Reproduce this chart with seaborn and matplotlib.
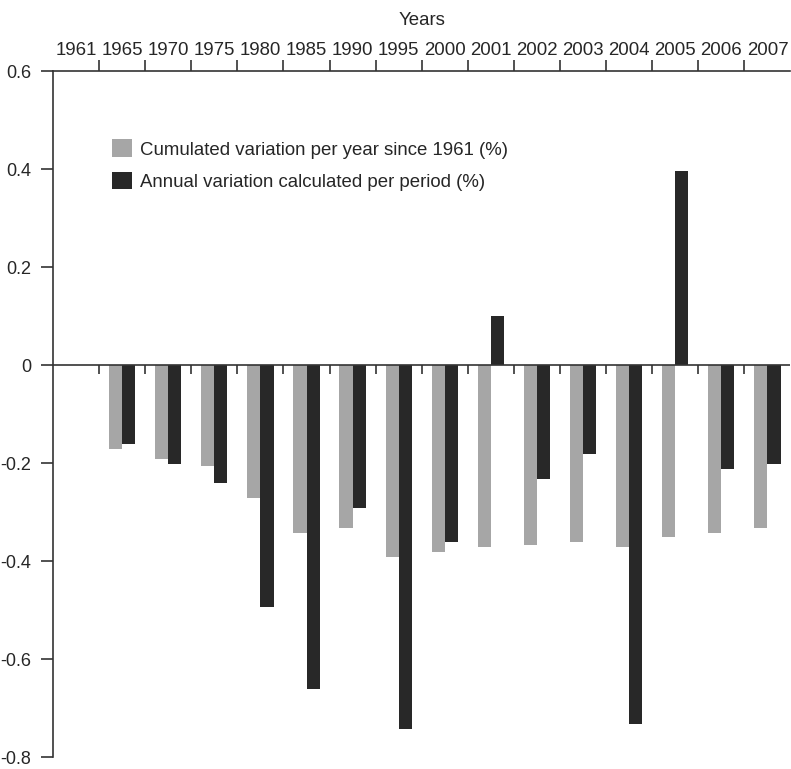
import matplotlib
matplotlib.use('Agg')
import matplotlib.pyplot as plt
from matplotlib.ticker import FixedLocator, FuncFormatter
import numpy as np
import pandas as pd
import seaborn as sns

# 数据
years = ['1961', '1965', '1970', '1975', '1980', '1985', '1990', '1995',
         '2000', '2001', '2002', '2003', '2004', '2005', '2006', '2007']
cumulated = [np.nan, -0.172, -0.192, -0.206, -0.272, -0.342, -0.332, -0.392,
             -0.382, -0.372, -0.367, -0.362, -0.372, -0.352, -0.342, -0.332]
annual = [np.nan, -0.162, -0.203, -0.241, -0.493, -0.662, -0.291, -0.743,
          -0.361, 0.099, -0.232, -0.182, -0.732, 0.395, -0.212, -0.203]
series_names = ['Cumulated variation per year since 1961 (%)',
                'Annual variation calculated per period (%)']
series_colors = ['#a6a6a6', '#282828']

df = pd.DataFrame({
    'year': years * 2,
    'value': cumulated + annual,
    'series': [series_names[0]] * len(years) + [series_names[1]] * len(years),
})

sns.set_style("white")
plt.rcParams['font.family'] = ['Liberation Sans', 'DejaVu Sans']
plt.rcParams['axes.unicode_minus'] = False

fs = 13.4
line_col = '#333333'

fig = plt.figure(figsize=(7.91, 7.69), dpi=100)
ax = fig.add_axes([53 / 791, 12 / 769, 737.5 / 791, (757 - 71) / 769])

sns.barplot(data=df, x='year', y='value', hue='series', order=years,
            hue_order=series_names, palette=series_colors, saturation=1,
            width=0.57, linewidth=0, ax=ax)

ax.set_xlim(-0.5, len(years) - 0.5)
ax.set_ylim(-0.8, 0.6)

# 零线和分隔刻度
ax.axhline(0, color=line_col, lw=1.2, zorder=3)
bounds = np.arange(len(years) - 1) + 0.5
ax.vlines(bounds, -0.018, 0, color=line_col, lw=1.2, zorder=3)

# 坐标轴样式
for side in ['right', 'bottom']:
    ax.spines[side].set_visible(False)
for side in ['top', 'left']:
    ax.spines[side].set_color(line_col)
    ax.spines[side].set_linewidth(1.2)

ax.xaxis.tick_top()
ax.xaxis.set_label_position('top')
ax.set_xticks(range(len(years)))
ax.set_xticklabels(years, fontsize=fs)
ax.xaxis.set_minor_locator(FixedLocator(bounds))
ax.tick_params(axis='x', which='major', length=0, pad=9)
ax.tick_params(axis='x', which='minor', top=True, direction='out',
               length=8, width=1.2, color=line_col)
ax.set_xlabel('Years', fontsize=fs, labelpad=12)

ax.set_yticks(np.arange(-0.8, 0.61, 0.2))
ax.yaxis.set_major_formatter(FuncFormatter(lambda v, p: '{:g}'.format(round(v, 2)) if abs(v) > 1e-9 else '0'))
ax.tick_params(axis='y', left=True, direction='out', length=9, width=1.2,
               color=line_col, labelsize=13, pad=6.5)
ax.set_ylabel('')
ax.grid(False)

handles, labels = ax.get_legend_handles_labels()
ax.legend(handles, labels, loc='upper left', bbox_to_anchor=(0.0695, 0.911),
          frameon=False, fontsize=fs, handlelength=1.08, handleheight=1.08,
          handletextpad=0.42, labelspacing=0.7, borderaxespad=0)

fig.savefig('out.png', dpi=100, facecolor='white')
